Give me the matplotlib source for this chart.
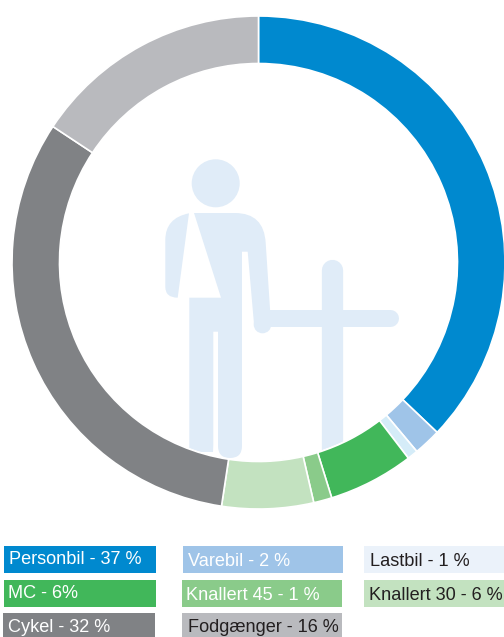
import matplotlib
matplotlib.use('Agg')
import matplotlib.pyplot as plt
from matplotlib.patches import Circle, PathPatch, Rectangle
from matplotlib.path import Path

W, H = 504, 637

# legend text and the slice shares measured from the ring
labels = ['Personbil - 37 %', 'Varebil - 2 %', 'Lastbil - 1 %', 'MC - 6%',
          'Knallert 45 - 1 %', 'Knallert 30 - 6 %', 'Cykel - 32 %', 'Fodgænger - 16 %']
shares = [37.1, 1.8, 0.7, 5.6, 1.2, 6.0, 31.9, 15.7]
ring_colors = ['#0089cf', '#9fc4e8', '#d5ecf8', '#41b75a',
               '#8acb8a', '#c3e2c0', '#808285', '#b9babe']
box_colors = ['#0089cf', '#9fc4e8', '#ebf2fa', '#41b75a',
              '#8acb8a', '#c3e2c0', '#808285', '#b9babe']
text_colors = ['white', 'white', '#231f20', 'white',
               'white', '#231f20', 'white', '#231f20']
icon_color = '#e0ecf8'

plt.rcParams['font.family'] = ['Liberation Sans', 'DejaVu Sans']

fig = plt.figure(figsize=(W / 100, H / 100), dpi=100)

# pixel coordinate layer for the icon and the legend boxes
bg = fig.add_axes([0, 0, 1, 1])
bg.set_xlim(0, W)
bg.set_ylim(H, 0)
bg.axis('off')

# ring
cx, cy, R = 258.5, 262.5, 246.5
ax = fig.add_axes([(cx - R) / W, 1 - (cy + R) / H, 2 * R / W, 2 * R / H])
ax.pie(shares, colors=ring_colors, startangle=90, counterclock=False, radius=1,
       wedgeprops=dict(width=47.5 / R, edgecolor='white', linewidth=1.2))
ax.set_xlim(-1, 1)
ax.set_ylim(-1, 1)
ax.patch.set_visible(False)

# person with the arm in a sling, leaning on the cross
clip = Circle((cx, cy), 198, transform=bg.transData)

M, L, C, Z = Path.MOVETO, Path.LINETO, Path.CURVE3, Path.CLOSEPOLY
body = [((194, 213), M), ((235, 213), L), ((264, 213), C), ((265.7, 243), C),
        ((271, 324), L), ((254, 324), L), ((247.7, 251.7), L), ((242, 251.7), L),
        ((242, 446), L), ((242, 458), C), ((230, 458), C), ((218, 458), C),
        ((218, 446), C), ((218, 331.7), L), ((213.3, 331.7), L), ((213.3, 445), L),
        ((213, 452), L), ((189.3, 452), L), ((189.3, 297.7), L), ((221, 297.7), L),
        ((194, 213), L), ((194, 213), Z)]
arm = [((189, 213.3), M), ((177.7, 297.7), L), ((165.3, 297.7), C), ((165.3, 286.7), C),
       ((165.3, 240), L), ((165.3, 218), C), ((189, 213.3), C), ((189, 213.3), Z)]
for shape in (body, arm):
    verts, codes = zip(*shape)
    p = PathPatch(Path(verts, codes), fc=icon_color, ec='none')
    bg.add_patch(p)
    p.set_clip_path(clip)

bg.add_patch(Circle((215.7, 183.3), 24, fc=icon_color, ec='none'))
bg.add_patch(Circle((262.5, 324.5), 8.8, fc=icon_color, ec='none'))
px = 72 / 100
bg.plot([262, 389.5], [318.4, 318.4], color=icon_color, lw=17 * px, solid_capstyle='round')
cross, = bg.plot([331.7, 331.7], [269.5, 480], color=icon_color, lw=21.3 * px,
                 solid_capstyle='round')
cross.set_clip_path(clip)

# legend
box_x = [4, 183, 364, 4, 182, 364, 3, 182]
box_y = [546, 546, 546, 580, 580, 580, 613, 613]
box_w = [152, 160, 140, 152, 160, 140, 152, 160]
box_h = [27, 27, 27, 27, 27, 27, 27, 27]
text_x = [9, 188, 370, 8, 186, 369, 8, 188]
text_y = [560, 561, 561, 593, 595, 595, 627, 628]
for i in range(len(labels)):
    bg.add_patch(Rectangle((box_x[i], box_y[i]), box_w[i], box_h[i], fc=box_colors[i], ec='none'))
    bg.text(text_x[i], text_y[i], labels[i], color=text_colors[i], fontsize=13.1,
            ha='left', va='center')

fig.savefig('out.png', dpi=100)
